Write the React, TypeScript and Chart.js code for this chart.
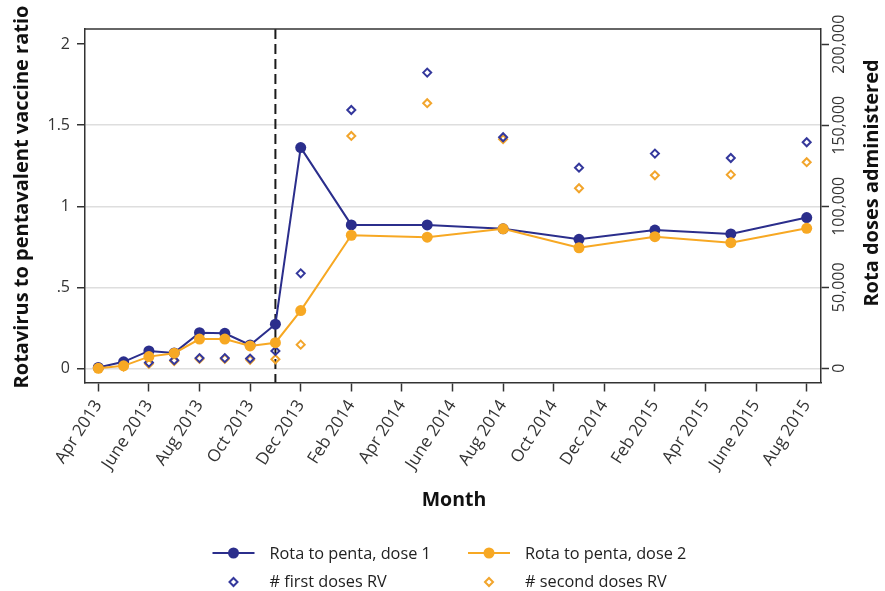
import React, { useEffect, useRef } from "react";
import { Chart, registerables } from "chart.js";

Chart.register(...registerables);

// month index 0 = Apr 2013
const pointMonths = [0, 1, 2, 3, 4, 5, 6, 7, 8, 10, 13, 16, 19, 22, 25, 28];
const ratioDose1 = [0.005, 0.04, 0.107, 0.095, 0.22, 0.216, 0.144, 0.272, 1.362, 0.885, 0.885, 0.861, 0.796, 0.853, 0.829, 0.93];
const ratioDose2 = [0, 0.015, 0.072, 0.093, 0.18, 0.18, 0.138, 0.158, 0.356, 0.821, 0.809, 0.861, 0.744, 0.812, 0.775, 0.864];
const firstDoses = [300, 2000, 3500, 5000, 6300, 6300, 6000, 10700, 58600, 159400, 182500, 142600, 123800, 132500, 129800, 139500];
const secondDoses = [200, 1000, 2800, 4500, 5800, 5800, 5200, 5600, 14600, 143400, 163600, 141400, 111100, 119100, 119500, 127200];

const xTickMonths = [0, 2, 4, 6, 8, 10, 12, 14, 16, 18, 20, 22, 24, 26, 28];
const xTickLabels = [
  "Apr 2013", "June 2013", "Aug 2013", "Oct 2013", "Dec 2013", "Feb 2014", "Apr 2014",
  "June 2014", "Aug 2014", "Oct 2014", "Dec 2014", "Feb 2015", "Apr 2015", "June 2015", "Aug 2015",
];
const leftTicks = [0, 0.5, 1, 1.5, 2];
const leftTickLabels = ["0", ".5", "1", "1.5", "2"];
const rightTicks = [0, 50000, 100000, 150000, 200000];
const rightTickLabels = ["0", "50,000", "100,000", "150,000", "200,000"];
const campaignMonth = 7; // Nov 2013, dashed reference line

const seriesNames = ["Rota to penta, dose 1", "Rota to penta, dose 2", "# first doses RV", "# second doses RV"];

const BLUE = "#2b2e8c";
const BLUE_D = "#34389c";
const ORANGE = "#f7a823";
const ORANGE_D = "#f2a52c";
const FONT = "'Open Sans', 'Noto Sans', sans-serif";

const toXY = (ys: number[]) => pointMonths.map((m, i) => ({ x: m, y: ys[i] }));

const overlayPlugin = {
  id: "overlay",
  beforeDatasetsDraw(chart: any) {
    const { ctx, chartArea, scales } = chart;
    const x = scales.x.getPixelForValue(campaignMonth);
    ctx.save();
    ctx.strokeStyle = "#1a1a1a";
    ctx.lineWidth = 2;
    ctx.setLineDash([10, 5]);
    ctx.beginPath();
    ctx.moveTo(x, chartArea.top);
    ctx.lineTo(x, chartArea.bottom);
    ctx.stroke();
    ctx.restore();
  },
  afterDraw(chart: any) {
    const { ctx, chartArea, scales } = chart;
    ctx.save();
    // top border of plot box
    ctx.strokeStyle = "#333";
    ctx.lineWidth = 1.5;
    ctx.beginPath();
    ctx.moveTo(chartArea.left, chartArea.top);
    ctx.lineTo(chartArea.right, chartArea.top);
    ctx.stroke();

    // right axis tick labels (rotated)
    ctx.fillStyle = "#333";
    ctx.font = `16px ${FONT}`;
    ctx.textAlign = "center";
    ctx.textBaseline = "middle";
    rightTicks.forEach((v, i) => {
      const y = scales.y1.getPixelForValue(v);
      ctx.save();
      ctx.translate(chartArea.right + 18, y);
      ctx.rotate(-Math.PI / 2);
      ctx.fillText(rightTickLabels[i], 0, 0);
      ctx.restore();
    });

    // axis titles
    ctx.fillStyle = "#111";
    ctx.font = `bold 20px ${FONT}`;
    ctx.save();
    ctx.translate(22, 197);
    ctx.rotate(-Math.PI / 2);
    ctx.fillText("Rotavirus to pentavalent vaccine ratio", 0, 0);
    ctx.restore();
    ctx.save();
    ctx.translate(872, 183);
    ctx.rotate(-Math.PI / 2);
    ctx.fillText("Rota doses administered", 0, 0);
    ctx.restore();
    ctx.font = `bold 19.5px ${FONT}`;
    ctx.textBaseline = "alphabetic";
    ctx.fillText("Month", 454, 506);

    // legend
    ctx.font = `16.3px ${FONT}`;
    ctx.textAlign = "left";
    ctx.textBaseline = "middle";
    const cols = [233.5, 489];
    const rows = [553, 582];
    const lineColors = [BLUE, ORANGE];
    const diaColors = [BLUE_D, ORANGE_D];
    for (let c = 0; c < 2; c++) {
      const cx = cols[c];
      ctx.strokeStyle = lineColors[c];
      ctx.lineWidth = 2;
      ctx.beginPath();
      ctx.moveTo(cx - 21, rows[0]);
      ctx.lineTo(cx + 21, rows[0]);
      ctx.stroke();
      ctx.fillStyle = lineColors[c];
      ctx.beginPath();
      ctx.arc(cx, rows[0], 5.5, 0, Math.PI * 2);
      ctx.fill();
      ctx.strokeStyle = diaColors[c];
      ctx.lineWidth = 2;
      ctx.beginPath();
      ctx.moveTo(cx - 4, rows[1]);
      ctx.lineTo(cx, rows[1] - 4);
      ctx.lineTo(cx + 4, rows[1]);
      ctx.lineTo(cx, rows[1] + 4);
      ctx.closePath();
      ctx.stroke();
      ctx.fillStyle = "#222";
      ctx.fillText(seriesNames[c], cx + 36, rows[0] + 1);
      ctx.fillText(seriesNames[c + 2], cx + 36, rows[1]);
    }
    ctx.restore();
  },
};

export default function App() {
  const ref = useRef<HTMLCanvasElement | null>(null);
  useEffect(() => {
    if (!ref.current) return;
    const chart = new Chart(ref.current, {
      type: "line",
      data: {
        datasets: [
          {
            label: seriesNames[1],
            data: toXY(ratioDose2),
            yAxisID: "y",
            borderColor: ORANGE,
            backgroundColor: ORANGE,
            borderWidth: 2,
            pointRadius: 5.5,
            pointBorderWidth: 0,
            pointBackgroundColor: ORANGE,
            order: 0,
          },
          {
            label: seriesNames[0],
            data: toXY(ratioDose1),
            yAxisID: "y",
            borderColor: BLUE,
            backgroundColor: BLUE,
            borderWidth: 2,
            pointRadius: 5.5,
            pointBorderWidth: 0,
            pointBackgroundColor: BLUE,
            order: 1,
          },
          {
            label: seriesNames[2],
            data: toXY(firstDoses),
            yAxisID: "y1",
            showLine: false,
            pointStyle: "rectRot",
            pointRadius: 4,
            pointBorderWidth: 2,
            pointBorderColor: BLUE_D,
            pointBackgroundColor: "rgba(0,0,0,0)",
            borderColor: BLUE_D,
            order: 2,
          },
          {
            label: seriesNames[3],
            data: toXY(secondDoses),
            yAxisID: "y1",
            showLine: false,
            pointStyle: "rectRot",
            pointRadius: 4,
            pointBorderWidth: 2,
            pointBorderColor: ORANGE_D,
            pointBackgroundColor: "rgba(0,0,0,0)",
            borderColor: ORANGE_D,
            order: 3,
          },
        ],
      },
      options: {
        responsive: false,
        animation: false,
        events: [],
        layout: { padding: { top: 29, left: 0, right: 0, bottom: 0 } },
        plugins: { legend: { display: false }, tooltip: { enabled: false } },
        scales: {
          x: {
            type: "linear",
            position: "bottom",
            min: -0.526,
            max: 28.565,
            afterBuildTicks: (s: any) => {
              s.ticks = xTickMonths.map((v) => ({ value: v }));
            },
            afterFit: (s: any) => {
              s.height = 208.5;
            },
            ticks: {
              autoSkip: false,
              minRotation: 57,
              maxRotation: 57,
              padding: 5,
              color: "#333",
              font: { family: FONT, size: 17 },
              callback: (v: any) => {
                const i = xTickMonths.indexOf(v);
                return i >= 0 ? xTickLabels[i] : "";
              },
            },
            grid: { drawOnChartArea: false, tickLength: 9, tickColor: "#333", tickWidth: 1.5 },
            border: { display: true, color: "#333", width: 1.5 },
          },
          y: {
            type: "linear",
            position: "left",
            min: -0.0877,
            max: 2.094,
            afterBuildTicks: (s: any) => {
              s.ticks = leftTicks.map((v) => ({ value: v }));
            },
            afterFit: (s: any) => {
              s.width = 85;
            },
            ticks: {
              padding: 7,
              color: "#333",
              font: { family: FONT, size: 16 },
              callback: (v: any) => {
                const i = leftTicks.indexOf(v);
                return i >= 0 ? leftTickLabels[i] : "";
              },
            },
            grid: {
              color: (c: any) => (c.tick && c.tick.value === 2 ? "rgba(0,0,0,0)" : "#dedede"),
              lineWidth: 1.5,
              tickLength: 8,
              tickColor: "#333",
              tickWidth: 1.5,
            },
            border: { display: true, color: "#333", width: 1.5 },
          },
          y1: {
            type: "linear",
            position: "right",
            min: -8770,
            max: 209400,
            afterBuildTicks: (s: any) => {
              s.ticks = rightTicks.map((v) => ({ value: v }));
            },
            afterFit: (s: any) => {
              s.width = 64;
            },
            ticks: { display: false },
            grid: { drawOnChartArea: false, tickLength: 8, tickColor: "#333", tickWidth: 1.5 },
            border: { display: true, color: "#333", width: 1.5 },
          },
        },
      },
      plugins: [overlayPlugin],
    } as any);
    return () => chart.destroy();
  }, []);
  return (
    <div style={{ position: "absolute", left: 0, top: 0, width: 885, height: 591, background: "#fff" }}>
      <canvas ref={ref} width={885} height={591} />
    </div>
  );
}
